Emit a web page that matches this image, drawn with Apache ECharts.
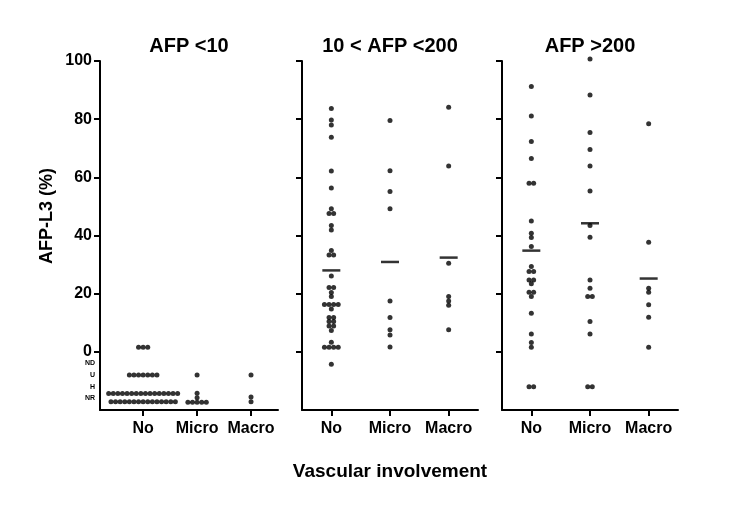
<!DOCTYPE html>
<html><head><meta charset="utf-8">
<script src="https://cdn.jsdelivr.net/npm/echarts@6/dist/echarts.min.js"></script>
<style>html,body{margin:0;padding:0;background:#fff}#c{width:733px;height:512px}</style>
</head><body><div id="c"></div>
<script>
const panelTitles = ['AFP <10', '10 < AFP <200', 'AFP >200'];
const categories = ['No', 'Micro', 'Macro'];
const yTickValues = [0, 20, 40, 60, 80, 100];
const yCodeLabels = ['ND', 'U', 'H', 'NR'];
const yCodeValues = [-4, -8, -12, -16];
const yTitle = 'AFP-L3 (%)';
const xTitle = 'Vascular involvement';

// AFP <10
const lowNo = [1.6, 1.6, 1.6, -8, -8, -8, -8, -8, -8, -8,
  -14.3, -14.3, -14.3, -14.3, -14.3, -14.3, -14.3, -14.3, -14.3, -14.3, -14.3, -14.3, -14.3, -14.3, -14.3, -14.3,
  -17.2, -17.2, -17.2, -17.2, -17.2, -17.2, -17.2, -17.2, -17.2, -17.2, -17.2, -17.2, -17.2, -17.2, -17.2];
const lowMicro = [-8, -14.2, -15.8, -17.3, -17.3, -17.3, -17.3, -17.3];
const lowMacro = [-8, -15.5, -17.2];
// 10 < AFP <200
const midNo = [83.7, 79.7, 78.0, 73.8, 62.2, 56.3, 49.2, 47.6, 47.6, 43.4, 41.9, 34.8, 33.3, 33.3,
  26.1, 22.1, 22.1, 20.4, 19.0, 16.3, 16.3, 16.3, 16.3, 14.7, 11.8, 11.8, 10.4, 10.4, 8.9, 8.9, 7.3,
  3.3, 1.6, 1.6, 1.6, 1.6, -4.3];
const midMicro = [79.5, 62.3, 55.1, 49.2, 17.5, 11.8, 7.6, 5.8, 1.7];
const midMacro = [84.1, 63.9, 30.5, 19.0, 17.5, 16.0, 7.6];
const midMedians = [28.0, 30.9, 32.4];
// AFP >200
const highNo = [91.2, 81.1, 72.3, 66.5, 58.0, 58.0, 45.0, 40.8, 39.3, 36.2, 29.3, 27.6, 27.6,
  24.7, 24.7, 23.4, 20.5, 20.5, 19.0, 13.3, 6.1, 3.2, 1.6, -12, -12];
const highMicro = [100.7, 88.3, 75.4, 69.6, 63.9, 55.3, 43.4, 39.4, 24.7, 21.9, 19.0, 19.0, 10.4, 6.1, -12, -12];
const highMacro = [78.4, 37.7, 21.9, 20.5, 16.2, 11.9, 1.6];
const highMedians = [34.8, 44.2, 25.2];

const panelData = [[lowNo, lowMicro, lowMacro], [midNo, midMicro, midMacro], [highNo, highMicro, highMacro]];
const panelMedians = [null, midMedians, highMedians];

const FONT = "'Liberation Sans', Arial, sans-serif";
const gridLefts = [100, 302, 502];
const gridWidths = [178, 176, 176];
const xMins = [0.2, 0.5, 0.5];
const DOT = 5, GAP = 4.6;

function swarm(vals, c) {
  const counts = {}, seen = {};
  vals.forEach(v => { counts[v] = (counts[v] || 0) + 1; });
  return vals.map(v => {
    const n = counts[v]; const i = seen[v] || 0; seen[v] = i + 1;
    return { value: [c + 1, v], symbolOffset: [(i - (n - 1) / 2) * GAP, 0] };
  });
}

const grid = [], xAxis = [], yAxis = [], series = [];
for (let p = 0; p < 3; p++) {
  grid.push({ left: gridLefts[p], top: 61, width: gridWidths[p], height: 349 });
  xAxis.push({
    type: 'value', gridIndex: p, min: xMins[p], max: 3.5,
    axisLine: { show: true, onZero: false, lineStyle: { color: '#000', width: 2 } },
    axisTick: { show: true, customValues: [1, 2, 3], length: 6, lineStyle: { color: '#000', width: 2 } },
    axisLabel: { show: true, customValues: [1, 2, 3], formatter: v => categories[Math.round(v) - 1],
      color: '#000', fontWeight: 'bold', fontSize: 16, fontFamily: FONT, margin: 11 },
    splitLine: { show: false }
  });
  yAxis.push({
    type: 'value', gridIndex: p, min: -20, max: 100,
    axisLine: { show: true, onZero: false, lineStyle: { color: '#000', width: 2 } },
    axisTick: { show: true, customValues: yTickValues, length: 6, lineStyle: { color: '#000', width: 2 } },
    axisLabel: p === 0 ? {
      show: true, customValues: yTickValues.concat(yCodeValues),
      formatter: v => { const k = yCodeValues.indexOf(v); return k >= 0 ? '{s|' + yCodeLabels[k] + '}' : String(v); },
      color: '#000', fontWeight: 'bold', fontSize: 16, fontFamily: FONT, margin: 8,
      rich: { s: { fontSize: 7, fontWeight: 'bold', fontFamily: FONT, color: '#000', padding: [0, -3, 0, 0] } }
    } : { show: false },
    splitLine: { show: false }
  });
  panelData[p].forEach((vals, c) => {
    series.push({
      type: 'scatter', xAxisIndex: p, yAxisIndex: p, clip: false, silent: true,
      symbol: 'circle', symbolSize: DOT, itemStyle: { color: '#000' },
      data: swarm(vals, c)
    });
  });
  if (panelMedians[p]) {
    series.push({
      type: 'scatter', xAxisIndex: p, yAxisIndex: p, clip: false, silent: true,
      symbol: 'rect', symbolSize: [18, 2.5], itemStyle: { color: '#000' },
      data: panelMedians[p].map((m, c) => [c + 1, m])
    });
  }
}

const graphic = panelTitles.map((t, p) => ({
  type: 'text', x: gridLefts[p] + gridWidths[p] / 2, y: 46,
  style: { text: t, font: 'bold 20px ' + FONT, fill: '#000', align: 'center', verticalAlign: 'middle' }
}));
graphic.push({ type: 'text', x: 390, y: 472,
  style: { text: xTitle, font: 'bold 19px ' + FONT, fill: '#000', align: 'center', verticalAlign: 'middle' } });
graphic.push({ type: 'text', x: 47, y: 216, rotation: Math.PI / 2,
  style: { text: yTitle, font: 'bold 18px ' + FONT, fill: '#000', align: 'center', verticalAlign: 'middle' } });

const chart = echarts.init(document.getElementById('c'), null, { renderer: 'canvas' });
chart.setOption({ backgroundColor: '#fff', animation: false, grid, xAxis, yAxis, series, graphic });
</script></body></html>
